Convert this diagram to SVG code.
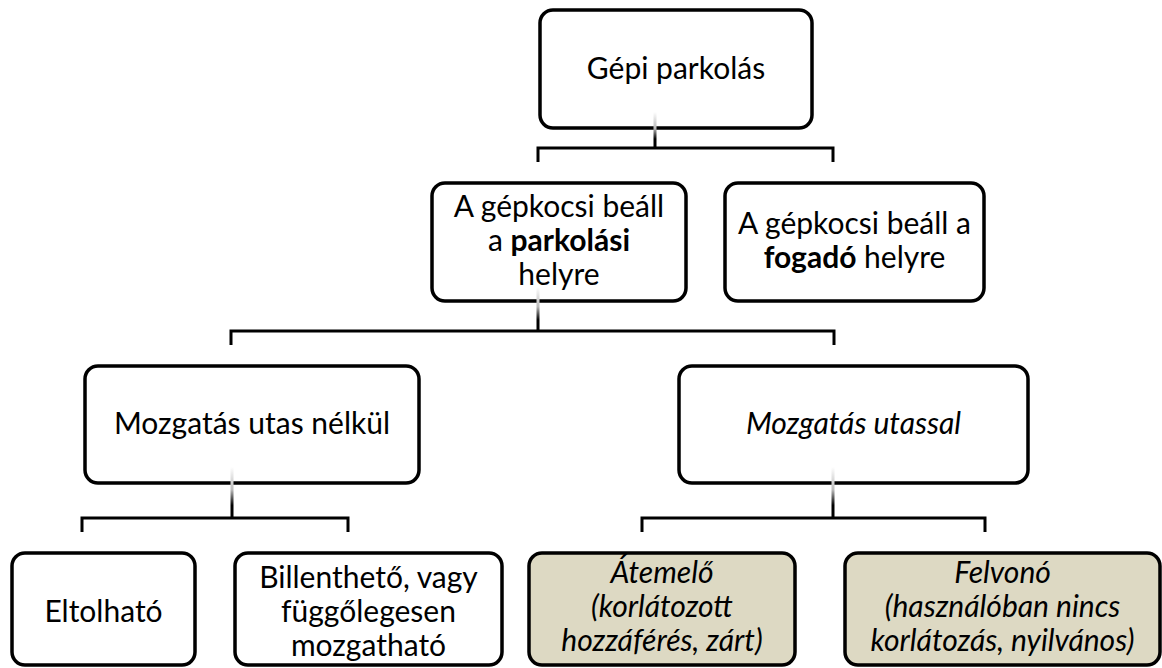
<svg xmlns="http://www.w3.org/2000/svg" width="1162" height="668" viewBox="0 0 1162 668">
<defs>
<linearGradient id="fade" x1="0" y1="0" x2="0" y2="1">
<stop offset="0" stop-color="#ffffff"/>
<stop offset="0.45" stop-color="#bbbbbb"/>
<stop offset="0.75" stop-color="#000000"/>
<stop offset="1" stop-color="#000000"/>
</linearGradient>
<style>
.box{fill:#ffffff;stroke:#000000;stroke-width:3.5}
.shade{fill:#DDD9C3}
.lbl{font-family:Lato,"Liberation Sans",sans-serif;font-size:30px;fill:#000000;text-anchor:middle}
.it{font-style:italic}
.b{font-weight:bold}
.br{fill:none;stroke:#000000;stroke-width:3}
</style>
</defs>
<rect width="1162" height="668" fill="#ffffff"/>
<g id="connectors">
<path class="br" d="M538,162 V148 H833 V162"/>
<path class="br" d="M231,345 V331 H834 V345"/>
<path class="br" d="M82,532 V518 H348 V532"/>
<path class="br" d="M642,532 V518 H985 V532"/>
</g>
<g id="n1">
<rect class="box" x="540" y="10" width="272" height="118" rx="13"/>
<text class="lbl" x="676" y="79">Gépi parkolás</text>
</g>
<g id="n2">
<rect class="box" x="432" y="183" width="254" height="118" rx="13"/>
<text class="lbl" x="559" y="217">A gépkocsi beáll</text>
<text class="lbl" x="559" y="251">a <tspan class="b">parkolási</tspan></text>
<text class="lbl" x="559" y="285">helyre</text>
</g>
<g id="n3">
<rect class="box" x="725" y="183" width="259" height="118" rx="13"/>
<text class="lbl" x="854.5" y="234">A gépkocsi beáll a</text>
<text class="lbl" x="854.5" y="268"><tspan class="b">fogadó</tspan> helyre</text>
</g>
<g id="n4">
<rect class="box" x="85" y="366" width="334" height="117" rx="13"/>
<text class="lbl" x="252" y="434">Mozgatás utas nélkül</text>
</g>
<g id="n5">
<rect class="box" x="679" y="366" width="349" height="117" rx="13"/>
<text class="lbl it" x="853.5" y="434">Mozgatás utassal</text>
</g>
<g id="n6">
<rect class="box" x="12" y="553" width="183" height="112" rx="13"/>
<text class="lbl" x="103.5" y="622">Eltolható</text>
</g>
<g id="n7">
<rect class="box" x="235" y="553" width="267" height="112" rx="13"/>
<text class="lbl" x="368.5" y="588">Billenthető, vagy</text>
<text class="lbl" x="368.5" y="622">függőlegesen</text>
<text class="lbl" x="368.5" y="656">mozgatható</text>
</g>
<g id="n8">
<rect class="box shade" x="529" y="553" width="266" height="112" rx="13"/>
<text class="lbl it" x="662" y="583">Átemelő</text>
<text class="lbl it" x="662" y="617">(korlátozott</text>
<text class="lbl it" x="662" y="651">hozzáférés, zárt)</text>
</g>
<g id="n9">
<rect class="box shade" x="845" y="553" width="315" height="112" rx="13"/>
<text class="lbl it" x="1002.5" y="583">Felvonó</text>
<text class="lbl it" x="1002.5" y="617">(használóban nincs</text>
<text class="lbl it" x="1002.5" y="651">korlátozás, nyilvános)</text>
</g>
<g id="stems">
<rect x="653.5" y="112" width="3" height="36" fill="url(#fade)"/>
<rect x="536.5" y="287" width="3" height="44" fill="url(#fade)"/>
<rect x="230.5" y="467" width="3" height="51" fill="url(#fade)"/>
<rect x="831.5" y="467" width="3" height="51" fill="url(#fade)"/>
</g>
</svg>
